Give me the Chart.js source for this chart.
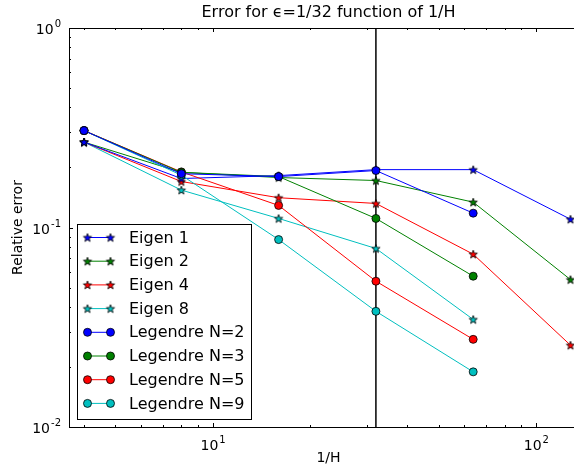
<!DOCTYPE html>
<html>
<head>
<meta charset="utf-8">
<script src="https://cdn.jsdelivr.net/npm/chart.js@4"></script>
<style>
  html, body { margin: 0; padding: 0; background: #fff; overflow: hidden; }
  #wrap { width: 574px; height: 469px; overflow: hidden; }
</style>
</head>
<body>
<div id="wrap"><canvas id="errChart" width="600" height="469"></canvas></div>
<script>
// 1/H values
const hInv = [4, 8, 16, 32, 64, 128];

// relative error, eigen basis
const eigen1 = [0.268, 0.176, 0.182, 0.195, 0.195, 0.110];
const eigen2 = [0.268, 0.189, 0.178, 0.172, 0.134, 0.0548];
const eigen4 = [0.268, 0.170, 0.141, 0.132, 0.0735, 0.0257];
const eigen8 = [0.268, 0.154, 0.111, 0.0785, 0.0346];

// relative error, Legendre
const legendre2 = [0.306, 0.186, 0.180, 0.193, 0.118];
const legendre3 = [0.306, 0.189, 0.180, 0.111, 0.057];
const legendre5 = [0.306, 0.190, 0.129, 0.0538, 0.0275];
const legendre9 = [0.306, 0.183, 0.087, 0.038, 0.0189];

const xTicks = [10, 100];
const xTickExp = ['1', '2'];
const yTicks = [1, 0.1, 0.01];
const yTickExp = ['0', '-1', '-2'];
const markLine = 32;

const FONT = '"DejaVu Sans", sans-serif';

// filled 5 point star like matplotlib '*'
function starImg(color) {
    const c = document.createElement('canvas');
    c.width = 12; c.height = 12;
    const g = c.getContext('2d');
    g.beginPath();
    for (let i = 0; i < 10; i++) {
        const r = i % 2 ? 1.8 : 4.4;
        const a = -Math.PI / 2 + i * Math.PI / 5;
        g.lineTo(6 + r * Math.cos(a), 6.4 + r * Math.sin(a));
    }
    g.closePath();
    g.fillStyle = color;
    g.fill();
    g.lineWidth = 0.8;
    g.strokeStyle = '#000';
    g.stroke();
    return c;
}

function pts(ys) {
    return ys.map((y, i) => ({ x: hInv[i], y: y }));
}

function series(label, ys, color, star) {
    return {
        label: label,
        data: pts(ys),
        borderColor: color,
        backgroundColor: color,
        borderWidth: 1,
        pointStyle: star ? starImg(color) : 'circle',
        pointRadius: star ? 5 : 4,
        pointBorderColor: '#000',
        pointBorderWidth: 0.8,
        pointBackgroundColor: color,
        isStar: star,
        order: star ? 1 : 0,
        tension: 0
    };
}

const blue = '#0000ff', green = '#008000', red = '#ff0000', cyan = '#00bfbf';

// frame, inward ticks, tick labels, title, marker line, legend
const decor = {
    id: 'decor',
    beforeDatasetsDraw(chart) {
        const ctx = chart.ctx, a = chart.chartArea;
        const px = chart.scales.x.getPixelForValue(markLine);
        ctx.save();
        ctx.strokeStyle = '#000';
        ctx.lineWidth = 1.5;
        ctx.beginPath();
        ctx.moveTo(px, a.top);
        ctx.lineTo(px, a.bottom);
        ctx.stroke();
        ctx.restore();
    },
    afterDraw(chart) {
        const ctx = chart.ctx, a = chart.chartArea;
        const xs = chart.scales.x, ys = chart.scales.y;
        ctx.save();
        ctx.strokeStyle = '#000';
        ctx.lineWidth = 1;
        ctx.strokeRect(Math.round(a.left) + 0.5, Math.round(a.top) + 0.5,
            Math.round(a.right - a.left), Math.round(a.bottom - a.top));

        // x ticks
        [1, 10, 100].forEach(d => {
            for (let m = 1; m <= 9; m++) {
                const v = m * d;
                if (v < xs.min || v > xs.max) continue;
                const p = Math.round(xs.getPixelForValue(v)) + 0.5;
                const len = m === 1 ? 4 : 2;
                ctx.beginPath();
                ctx.moveTo(p, a.bottom); ctx.lineTo(p, a.bottom - len);
                ctx.moveTo(p, a.top); ctx.lineTo(p, a.top + len);
                ctx.stroke();
            }
        });
        // y ticks
        [0.01, 0.1, 1].forEach(d => {
            for (let m = 1; m <= 9; m++) {
                const v = m * d;
                if (v < ys.min - 1e-9 || v > ys.max + 1e-9) continue;
                const p = Math.round(ys.getPixelForValue(v)) + 0.5;
                const len = m === 1 ? 4 : 2;
                ctx.beginPath();
                ctx.moveTo(a.left, p); ctx.lineTo(a.left + len, p);
                ctx.moveTo(a.right, p); ctx.lineTo(a.right - len, p);
                ctx.stroke();
            }
        });

        // tick labels with superscripts
        ctx.fillStyle = '#000';
        ctx.textBaseline = 'alphabetic';
        const baseFont = '14px ' + FONT, supFont = '10px ' + FONT;
        xTicks.forEach((v, i) => {
            const p = xs.getPixelForValue(v);
            ctx.font = baseFont;
            const w1 = ctx.measureText('10').width;
            ctx.font = supFont;
            const w2 = ctx.measureText(xTickExp[i]).width;
            const x0 = p - (w1 + w2) / 2;
            ctx.font = baseFont;
            ctx.textAlign = 'left';
            ctx.fillText('10', x0, a.bottom + 23);
            ctx.font = supFont;
            ctx.fillText(xTickExp[i], x0 + w1 + 1, a.bottom + 16);
        });
        yTicks.forEach((v, i) => {
            const p = ys.getPixelForValue(v);
            ctx.font = supFont;
            const w2 = ctx.measureText(yTickExp[i]).width;
            ctx.textAlign = 'right';
            ctx.fillText(yTickExp[i], a.left - 8, p - 1);
            ctx.font = baseFont;
            ctx.fillText('10', a.left - 9 - w2, p + 6);
        });

        // title
        ctx.textAlign = 'center';
        ctx.textBaseline = 'middle';
        ctx.font = '16px ' + FONT;
        ctx.fillText('Error for \u03f5=1/32 function of 1/H', (a.left + a.right) / 2, 13);

        // axis titles
        ctx.font = '14px ' + FONT;
        ctx.fillText('1/H', (a.left + a.right) / 2, 458);
        ctx.save();
        ctx.translate(18, (a.top + a.bottom) / 2);
        ctx.rotate(-Math.PI / 2);
        ctx.fillText('Relative error', 0, 0);
        ctx.restore();

        // legend
        const lx = 77, ly = 224, lw = 174, lh = 195;
        ctx.fillStyle = '#fff';
        ctx.fillRect(lx, ly, lw, lh);
        ctx.strokeStyle = '#000';
        ctx.lineWidth = 1;
        ctx.strokeRect(lx + 0.5, ly + 0.5, lw, lh);
        ctx.font = '16px ' + FONT;
        ctx.textAlign = 'left';
        ctx.textBaseline = 'middle';
        chart.data.datasets.forEach((ds, i) => {
            const y = 237.5 + i * 23.7;
            const x0 = 87.5, x1 = 110.5;
            ctx.strokeStyle = ds.borderColor;
            ctx.lineWidth = 1;
            ctx.beginPath();
            ctx.moveTo(x0, y); ctx.lineTo(x1, y);
            ctx.stroke();
            [x0, x1].forEach(x => {
                if (ds.isStar) {
                    ctx.drawImage(ds.pointStyle, x - 6, y - 6);
                } else {
                    ctx.beginPath();
                    ctx.arc(x, y, 4, 0, Math.PI * 2);
                    ctx.fillStyle = ds.borderColor;
                    ctx.fill();
                    ctx.lineWidth = 0.8;
                    ctx.strokeStyle = '#000';
                    ctx.stroke();
                }
            });
            ctx.fillStyle = '#000';
            ctx.fillText(ds.label, 129, y + 1);
        });
        ctx.restore();
    }
};

new Chart(document.getElementById('errChart'), {
    type: 'line',
    data: {
        datasets: [
            series('Eigen 1', eigen1, blue, true),
            series('Eigen 2', eigen2, green, true),
            series('Eigen 4', eigen4, red, true),
            series('Eigen 8', eigen8, cyan, true),
            series('Legendre N=2', legendre2, blue, false),
            series('Legendre N=3', legendre3, green, false),
            series('Legendre N=5', legendre5, red, false),
            series('Legendre N=9', legendre9, cyan, false)
        ]
    },
    options: {
        responsive: false,
        animation: false,
        layout: { padding: { left: 69, top: 28, right: 12, bottom: 42 } },
        plugins: {
            legend: { display: false },
            tooltip: { enabled: false },
            title: { display: false }
        },
        scales: {
            x: { type: 'logarithmic', min: 3.594, max: 145, display: false },
            y: { type: 'logarithmic', min: 0.01, max: 1, display: false }
        }
    },
    plugins: [decor]
});
</script>
</body>
</html>
